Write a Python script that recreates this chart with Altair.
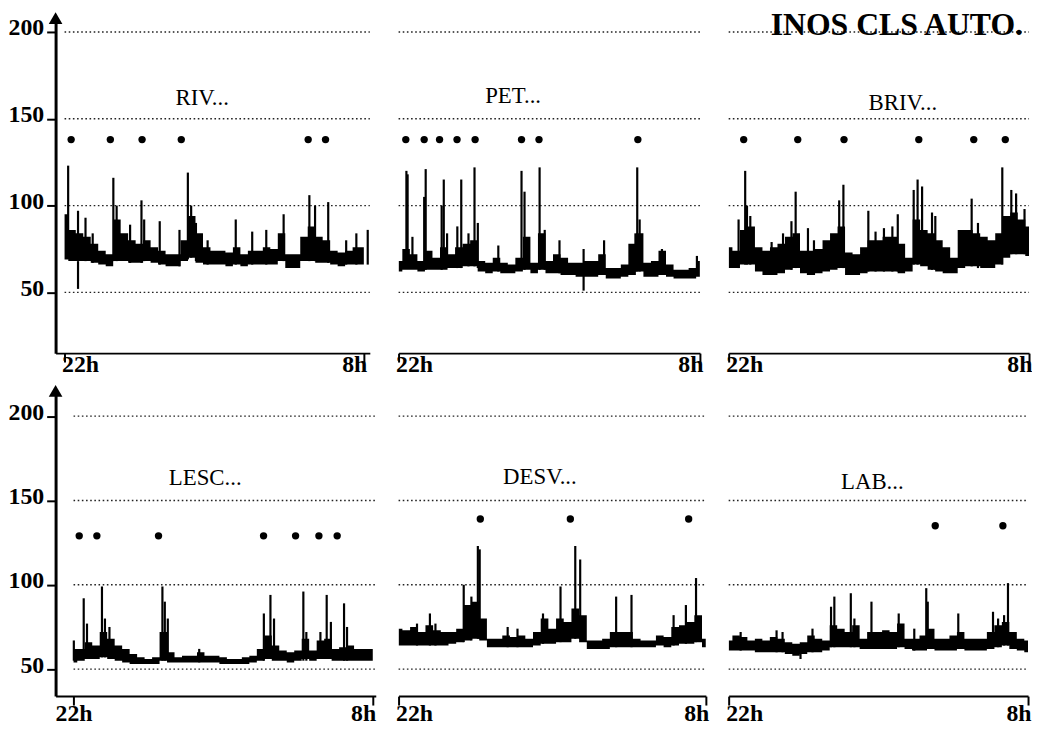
import altair as alt
import pandas as pd

FONT = "Liberation Serif"

# sampling times of the trace envelopes (hours after 22h)
HOURS = [round(0.25 * i, 2) for i in range(41)]
X_TICK_VALUES = [0, 10]
X_TICK_LABELS = ["22h", "8h"]
Y_TICK_VALUES = [50, 100, 150, 200]
GRID_LEVELS = [50, 100, 150, 200]
FIGURE_TITLE = "INOS CLS AUTO."

PANEL_NAMES = ["RIV...", "PET...", "BRIV...", "LESC...", "DESV...", "LAB..."]
NAME_T = [4.6, 3.8, 5.8, 4.4, 4.6, 4.8]
NAME_V = [162, 163, 159, 163, 164, 161]
DOT_LEVEL = [138, 138, 138, 129, 139, 135]
TITLE_T = 5.6
TITLE_V = 198

# ---- RIV ----
RIV_LO = [69, 68, 68, 68, 67, 66, 65, 68, 68, 67, 67, 68, 67, 66, 65, 65, 68, 70, 67, 66,
          66, 66, 65, 66, 65, 66, 66, 66, 66, 68, 64, 64, 68, 68, 67, 67, 66, 65, 66, 66, 66]
RIV_HI = [95, 86, 84, 82, 78, 74, 72, 92, 84, 80, 78, 80, 76, 74, 72, 72, 80, 94, 84, 76,
          74, 74, 73, 76, 72, 74, 74, 76, 75, 84, 72, 72, 82, 88, 82, 80, 74, 73, 74, 76, 76]
RIV_SPIKE_T = [0.12, 0.45, 0.45, 0.70, 0.94, 1.63, 1.74, 2.19, 2.57, 2.66, 3.18, 3.84, 4.12,
               4.23, 4.39, 4.78, 5.72, 6.27, 6.74, 7.32, 8.18, 8.37, 8.81, 9.41, 9.75, 10.13]
RIV_SPIKE_LO = [70, 68, 52, 68, 67, 68, 68, 67, 67, 68, 66, 65, 69, 70, 68, 66, 66, 66, 66,
                68, 68, 68, 67, 66, 66, 66]
RIV_SPIKE_HI = [123, 97, 68, 93, 84, 116, 100, 89, 103, 92, 91, 86, 119, 100, 90, 80, 92, 85,
                86, 95, 106, 100, 102, 80, 84, 86]
RIV_DOTS = [0.22, 1.53, 2.59, 3.90, 8.14, 8.72]

# ---- PET ----
PET_LO = [62, 63, 63, 62, 63, 63, 63, 64, 64, 65, 65, 62, 61, 62, 61, 61, 62, 63, 61, 63,
          61, 61, 60, 60, 59, 59, 59, 60, 58, 58, 59, 60, 62, 59, 59, 60, 59, 58, 58, 58, 59]
PET_HI = [68, 75, 72, 68, 74, 70, 76, 72, 76, 78, 80, 68, 67, 70, 67, 66, 70, 82, 67, 84,
          68, 72, 70, 67, 67, 68, 68, 72, 64, 64, 66, 78, 84, 67, 68, 74, 66, 63, 63, 64, 68]
PET_SPIKE_T = [0.26, 0.30, 0.46, 0.85, 0.90, 1.43, 1.50, 1.61, 1.95, 2.08, 2.32, 2.52, 2.63,
               3.31, 4.08, 4.18, 4.68, 4.85, 5.34, 6.14, 6.82, 7.86, 7.92, 8.00, 8.74, 9.90]
PET_SPIKE_LO = [64, 64, 64, 63, 63, 63, 64, 64, 64, 64, 65, 65, 64, 62, 63, 63, 63, 63, 61,
                51, 60, 62, 62, 62, 60, 60]
PET_SPIKE_HI = [120, 118, 82, 105, 121, 100, 115, 84, 88, 115, 84, 122, 90, 77, 120, 108, 122,
                86, 80, 75, 80, 84, 122, 92, 75, 71]
PET_DOTS = [0.24, 0.85, 1.36, 1.94, 2.54, 4.08, 4.66, 7.94]

# ---- BRIV ----
BRIV_LO = [64, 64, 66, 66, 62, 60, 60, 61, 63, 64, 61, 60, 61, 62, 63, 64, 60, 60, 61, 62,
           62, 62, 62, 61, 62, 66, 65, 63, 62, 61, 61, 64, 65, 65, 64, 64, 66, 70, 72, 72, 71]
BRIV_HI = [76, 74, 86, 88, 76, 74, 76, 78, 82, 84, 74, 74, 75, 80, 84, 88, 73, 72, 76, 80,
           80, 82, 82, 78, 70, 92, 86, 84, 80, 76, 70, 86, 86, 84, 82, 80, 84, 94, 96, 92, 88]
BRIV_SPIKE_T = [0.33, 0.55, 0.61, 0.72, 1.43, 1.81, 2.09, 2.23, 2.64, 2.84, 3.68, 3.82, 4.65,
                4.89, 5.17, 5.45, 5.63, 6.16, 6.29, 6.44, 6.77, 6.88, 8.09, 8.30, 9.11, 9.41,
                9.57, 9.85]
BRIV_SPIKE_LO = [64, 66, 66, 66, 60, 62, 63, 64, 60, 60, 64, 64, 62, 62, 62, 62, 62, 66, 66,
                 66, 63, 63, 65, 64, 66, 72, 72, 72]
BRIV_SPIKE_HI = [92, 120, 100, 94, 79, 84, 91, 108, 87, 80, 103, 112, 97, 85, 87, 88, 95, 109,
                 115, 111, 96, 94, 104, 90, 122, 109, 107, 98]
BRIV_DOTS = [0.50, 2.30, 3.84, 6.33, 8.16, 9.21]

# ---- LESC ----
LESC_LO = [54, 55, 56, 56, 57, 56, 55, 54, 53, 53, 53, 53, 55, 54, 54, 54, 54, 54, 54, 54,
           53, 53, 53, 53, 54, 55, 56, 55, 55, 54, 55, 56, 55, 56, 56, 55, 55, 55, 55, 55, 55]
LESC_HI = [62, 62, 66, 64, 72, 68, 64, 62, 59, 57, 56, 57, 72, 60, 57, 58, 58, 60, 58, 58,
           57, 56, 56, 57, 58, 62, 70, 64, 61, 60, 61, 68, 61, 67, 68, 62, 63, 64, 62, 62, 62]
LESC_SPIKE_T = [0.01, 0.34, 0.45, 0.95, 1.05, 1.20, 2.97, 3.05, 3.15, 4.20, 6.36, 6.58, 6.70,
                7.68, 7.78, 8.25, 8.46, 8.60, 9.04, 9.14]
LESC_SPIKE_LO = [55, 56, 56, 57, 57, 56, 55, 55, 55, 54, 55, 56, 56, 55, 55, 56, 56, 56, 55, 55]
LESC_SPIKE_HI = [67, 92, 77, 99, 80, 75, 99, 90, 80, 62, 83, 94, 80, 96, 72, 72, 94, 78, 89, 75]
LESC_DOTS = [0.19, 0.78, 2.84, 6.35, 7.42, 8.20, 8.81]

# ---- DESV ----
DESV_LO = [64, 64, 64, 64, 64, 64, 64, 65, 66, 67, 68, 67, 63, 63, 63, 63, 63, 63, 64, 65,
           65, 66, 66, 68, 66, 62, 62, 62, 63, 63, 63, 63, 63, 63, 64, 63, 64, 65, 65, 66, 63]
DESV_HI = [74, 73, 75, 72, 76, 73, 72, 72, 74, 88, 90, 80, 68, 68, 70, 69, 70, 68, 72, 80,
           74, 80, 78, 86, 82, 67, 67, 68, 72, 72, 72, 68, 67, 67, 70, 69, 75, 76, 78, 82, 68]
DESV_SPIKE_T = [0.60, 1.02, 1.20, 2.12, 2.37, 2.58, 2.64, 3.55, 3.87, 4.70, 5.27, 5.75, 5.91,
                7.08, 7.58, 8.95, 9.35, 9.68]
DESV_SPIKE_LO = [64, 64, 64, 66, 67, 68, 68, 63, 63, 65, 66, 68, 68, 63, 63, 64, 65, 66]
DESV_SPIKE_HI = [77, 83, 77, 100, 93, 123, 121, 75, 74, 83, 99, 123, 115, 93, 94, 82, 88, 104]
DESV_DOTS = [2.66, 5.59, 9.44]

# ---- LAB ----
LAB_LO = [61, 61, 61, 61, 60, 60, 60, 60, 59, 58, 59, 60, 60, 61, 63, 63, 63, 63, 62, 62,
          62, 62, 62, 63, 62, 61, 61, 62, 61, 61, 61, 62, 61, 61, 61, 62, 63, 64, 62, 61, 60]
LAB_HI = [67, 70, 69, 67, 68, 67, 69, 68, 66, 65, 66, 70, 68, 67, 76, 74, 72, 76, 68, 72,
          72, 73, 72, 77, 68, 68, 70, 74, 68, 68, 70, 72, 68, 68, 68, 72, 76, 78, 72, 68, 67]
LAB_SPIKE_T = [0.40, 1.60, 1.80, 2.40, 2.80, 3.42, 3.53, 4.08, 4.20, 4.77, 5.68, 6.20, 6.60,
               6.65, 7.67, 8.83, 9.00, 9.20, 9.33]
LAB_SPIKE_LO = [61, 60, 60, 56, 60, 63, 63, 63, 63, 62, 63, 61, 62, 62, 62, 62, 63, 64, 64]
LAB_SPIKE_HI = [72, 73, 72, 62, 74, 87, 93, 95, 80, 90, 83, 74, 98, 90, 83, 84, 80, 82, 101]
LAB_DOTS = [6.90, 9.16]

# ---- layout (style) ----
TOP_Y = [15, 208]
BOT_Y = [34, 215]
TOP_H = 338
BOT_H = 308

LABEL_EXPR = (f"datum.value == {X_TICK_VALUES[0]} ? '{X_TICK_LABELS[0]}' : "
              f"'{X_TICK_LABELS[1]}'")


def make_panel(idx, lo, hi, st, slo, shi, dots, xdom, ydom, width, height, left,
               xlabel_pad, with_title=False):
    band = pd.DataFrame({"t": HOURS, "lo": lo, "hi": hi})
    spikes = pd.DataFrame({"t": st, "lo": slo, "hi": shi})
    dotdf = pd.DataFrame({"t": dots, "v": [DOT_LEVEL[idx]] * len(dots)})
    grid = pd.DataFrame({"x0": [max(0, xdom[0])] * len(GRID_LEVELS),
                         "x1": [xdom[1]] * len(GRID_LEVELS), "v": GRID_LEVELS})
    name = pd.DataFrame({"t": [NAME_T[idx]], "v": [NAME_V[idx]],
                         "label": [PANEL_NAMES[idx]]})

    xscale = alt.Scale(domain=xdom, nice=False, zero=False)
    yscale = alt.Scale(domain=ydom, nice=False, zero=False)
    xaxis = alt.Axis(values=X_TICK_VALUES, labelExpr=LABEL_EXPR, title=None, grid=False,
                     domainColor="black", domainWidth=2, tickColor="black", tickWidth=2,
                     tickSize=9, labelFont=FONT, labelFontSize=24, labelFontWeight="bold",
                     labelColor="black", labelPadding=xlabel_pad, labelFlush=12,
                     labelFlushOffset=3)
    if left:
        yaxis = alt.Axis(values=Y_TICK_VALUES, title=None, grid=False, domainColor="black",
                         domainWidth=3, tickColor="black", tickWidth=2, tickSize=9,
                         labelFont=FONT, labelFontSize=24, labelFontWeight="bold",
                         labelColor="black", labelPadding=3, labelOffset=-4)
    else:
        yaxis = None

    def X(f):
        return alt.X(f, type="quantitative", scale=xscale, axis=xaxis)

    def Y(f):
        return alt.Y(f, type="quantitative", scale=yscale, axis=yaxis)

    layers = []
    layers.append(alt.Chart(grid).mark_rule(color="#222222", strokeWidth=1.4,
                                            strokeDash=[1.6, 2.6]).encode(
        x=X("x0"), x2="x1", y=Y("v")))
    layers.append(alt.Chart(band).mark_area(color="black", interpolate="step",
                                            clip=True, opacity=1).encode(
        x=X("t"), y=Y("lo"), y2="hi"))
    layers.append(alt.Chart(spikes).mark_rule(color="black", strokeWidth=2.2).encode(
        x=X("t"), y=Y("lo"), y2="hi"))
    layers.append(alt.Chart(dotdf).mark_circle(color="black", size=55, opacity=1).encode(
        x=X("t"), y=Y("v")))
    layers.append(alt.Chart(name).mark_text(font=FONT, fontSize=23, color="black",
                                            baseline="middle").encode(
        x=X("t"), y=Y("v"), text="label"))
    if left:
        arrow = pd.DataFrame({"t": [xdom[0]], "v": [ydom[1]]})
        layers.append(alt.Chart(arrow).mark_point(shape="triangle-up", filled=True,
                                                  size=190, color="black",
                                                  opacity=1).encode(x=X("t"), y=Y("v")))
    if with_title:
        tdf = pd.DataFrame({"t": [TITLE_T], "v": [TITLE_V], "label": [FIGURE_TITLE]})
        layers.append(alt.Chart(tdf).mark_text(font=FONT, fontSize=32, fontWeight="bold",
                                               color="black",
                                               baseline="alphabetic").encode(
            x=X("t"), y=Y("v"), text="label"))
    return alt.layer(*layers).properties(width=width, height=height)


p1 = make_panel(0, RIV_LO, RIV_HI, RIV_SPIKE_T, RIV_SPIKE_LO, RIV_SPIKE_HI, RIV_DOTS,
                [-0.3, 10.2], TOP_Y, 317, TOP_H, True, -9)
p2 = make_panel(1, PET_LO, PET_HI, PET_SPIKE_T, PET_SPIKE_LO, PET_SPIKE_HI, PET_DOTS,
                [0, 10], TOP_Y, 304, TOP_H, False, -9)
p3 = make_panel(2, BRIV_LO, BRIV_HI, BRIV_SPIKE_T, BRIV_SPIKE_LO, BRIV_SPIKE_HI, BRIV_DOTS,
                [0, 10], TOP_Y, 303, TOP_H, False, -9, with_title=True)
p4 = make_panel(3, LESC_LO, LESC_HI, LESC_SPIKE_T, LESC_SPIKE_LO, LESC_SPIKE_HI, LESC_DOTS,
                [-0.6, 10.1], BOT_Y, 323, BOT_H, True, -3)
p5 = make_panel(4, DESV_LO, DESV_HI, DESV_SPIKE_T, DESV_SPIKE_LO, DESV_SPIKE_HI, DESV_DOTS,
                [0, 10], BOT_Y, 310, BOT_H, False, -3)
p6 = make_panel(5, LAB_LO, LAB_HI, LAB_SPIKE_T, LAB_SPIKE_LO, LAB_SPIKE_HI, LAB_DOTS,
                [0, 10], BOT_Y, 302, BOT_H, False, -3)

chart = alt.concat(p1, p2, p3, p4, p5, p6, columns=3,
                   spacing={"row": 38, "column": 23},
                   bounds="flush", align="none").properties(
    padding={"left": 0, "top": -2, "right": 0, "bottom": 0},
    background="white",
).configure_view(stroke=None)

chart.save("out.html", embed_options={"renderer": "svg", "actions": False})
